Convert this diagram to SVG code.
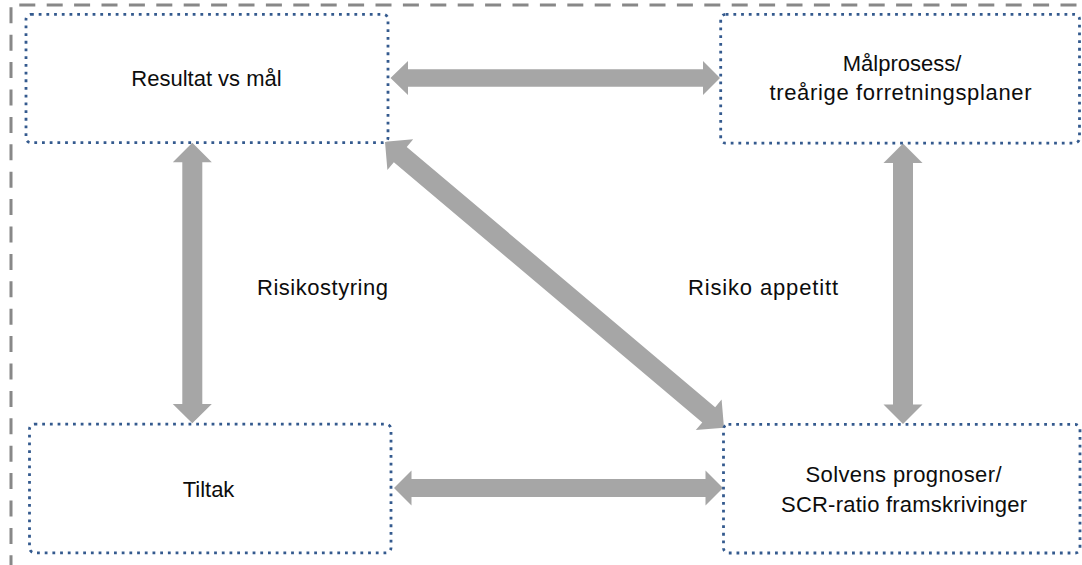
<svg xmlns="http://www.w3.org/2000/svg" width="1082" height="565" viewBox="0 0 1082 565">
<style>
.frame{fill:none;stroke:#888888;stroke-width:3;stroke-dasharray:16 11.4}
.box{fill:#ffffff;stroke:#345A8E;stroke-width:2.8;stroke-dasharray:2.8 4.9}
.arrow{fill:#A6A6A6;stroke:none}
.t{font-family:"Liberation Sans",Arial,sans-serif;font-size:22px;fill:#0d0d0d}
.c{text-anchor:middle}
</style>
<rect width="1082" height="565" fill="#ffffff"/>
<g id="frame">
<line class="frame" x1="19.3" y1="5" x2="1082" y2="5"/>
<line class="frame" x1="11" y1="7.3" x2="11" y2="565"/>
</g>
<g id="connectors">
<polygon class="arrow" points="390.5,78 408,61 408,69.3 703,69.3 703,61 720,78 703,95 703,86.7 408,86.7 408,95"/>
<polygon class="arrow" points="394,488 411.5,470.5 411.5,479 705.5,479 705.5,470.5 723,488 705.5,505.5 705.5,497 411.5,497 411.5,505.5"/>
<polygon class="arrow" points="192.3,142.7 211.8,162.3 202.3,162.3 202.3,404 211.8,404 192.3,423.3 172.8,404 182.3,404 182.3,162.3 172.8,162.3"/>
<polygon class="arrow" points="903,143.5 922.5,163 913,163 913,404.5 922.5,404.5 903,424 883.5,404.5 893,404.5 893,163 883.5,163"/>
<polygon class="arrow" transform="translate(385,141.7) rotate(40.15)" points="0,0 20,-20 20,-10 423.5,-10 423.5,-20 443.5,0 423.5,20 423.5,10 20,10 20,20"/>
</g>
<g id="node-resultat">
<rect class="box" x="26" y="14.3" width="362" height="128.4" rx="5"/>
<text class="t c" x="206.5" y="86">Resultat vs mål</text>
</g>
<g id="node-malprosess">
<rect class="box" x="720.7" y="14.3" width="358.8" height="128.8" rx="5"/>
<text class="t c" x="902" y="70.5">Målprosess/</text>
<text class="t c" x="900.5" y="100" textLength="262">treårige forretningsplaner</text>
</g>
<g id="node-tiltak">
<rect class="box" x="29.5" y="424.2" width="361.5" height="128.6" rx="5"/>
<text class="t c" x="208.5" y="497">Tiltak</text>
</g>
<g id="node-solvens">
<rect class="box" x="723.5" y="424.3" width="356.5" height="128.7" rx="5"/>
<text class="t c" x="903.5" y="482" textLength="196">Solvens prognoser/</text>
<text class="t c" x="904" y="512" textLength="246">SCR-ratio framskrivinger</text>
</g>
<g id="labels">
<text class="t" x="257" y="295" textLength="131">Risikostyring</text>
<text class="t" x="688" y="295" textLength="150">Risiko appetitt</text>
</g>
</svg>
